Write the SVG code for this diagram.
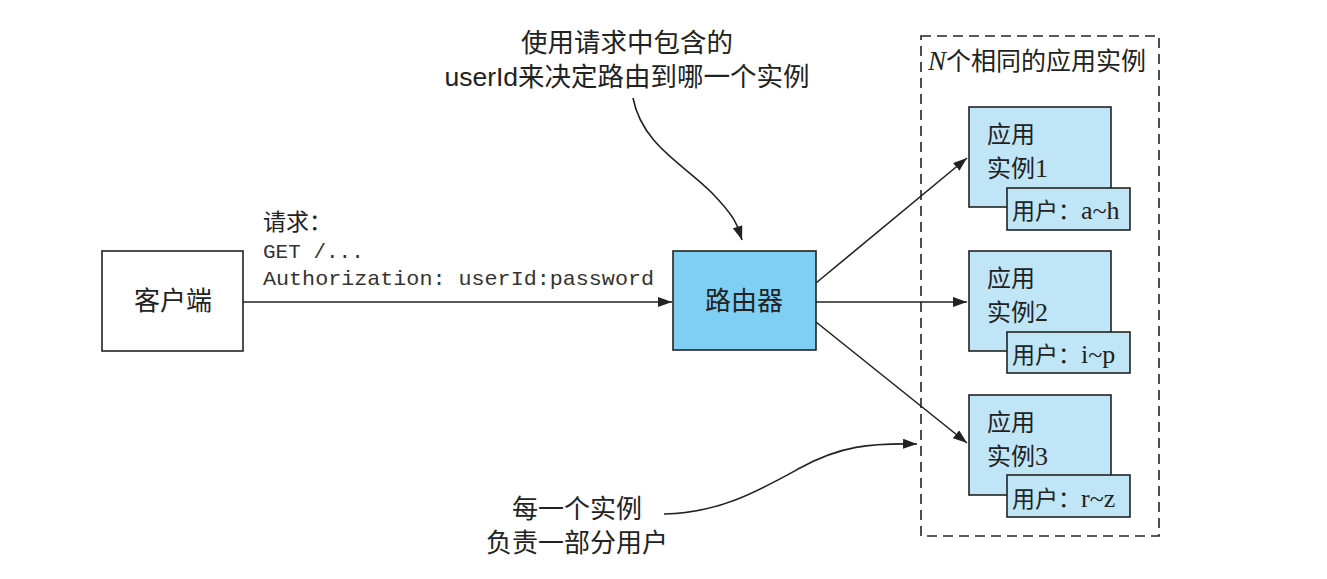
<svg xmlns="http://www.w3.org/2000/svg" width="1327" height="579" viewBox="0 0 1327 579">
<defs>
<marker id="ah" viewBox="0 0 14 10" refX="14" refY="5" markerWidth="14" markerHeight="10" markerUnits="userSpaceOnUse" orient="auto">
<path d="M0,0 L14,5 L0,10 Z" fill="#222"/>
</marker>
<style>
.box{stroke:#222;stroke-width:1.6}
.white{fill:#fff}
.router{fill:#7ecff3}
.inst{fill:#bfe5f6}
.serif{font-family:"Liberation Serif","Noto Sans CJK SC",serif;fill:#222}
.sans{font-family:"Liberation Sans","Noto Sans CJK SC",sans-serif;fill:#222}
.mono{font-family:"Liberation Mono","Noto Sans CJK SC",monospace;fill:#333}
.conn{stroke:#222;stroke-width:1.6;fill:none}
.lat{font-size:26px}
.bt{font-size:24px}
.lt{font-size:23px}
</style>
</defs>
<rect width="1327" height="579" fill="#fff"/>

<g id="container">
<rect x="921" y="36" width="238" height="500" fill="none" stroke="#222" stroke-width="1.6" stroke-dasharray="10,6"/>
<text x="928" y="70" class="serif" font-size="25"><tspan font-style="italic" font-size="27">N</tspan>个相同的应用实例</text>
</g>

<g id="client">
<rect x="102" y="251" width="141" height="100" class="box white"/>
<text x="173" y="310" class="serif" font-size="26" text-anchor="middle">客户端</text>
</g>

<g id="router">
<rect x="673" y="251" width="143" height="99" class="box router"/>
<text x="744" y="310" class="serif" font-size="26" text-anchor="middle">路由器</text>
</g>

<g id="instance1">
<rect x="969" y="107" width="142" height="100" class="box inst"/>
<text x="987" y="143" class="serif bt">应用</text>
<text x="987" y="177" class="serif bt">实例<tspan class="lat">1</tspan></text>
<rect x="1007" y="188" width="123" height="42" class="box inst"/>
<text x="1012" y="219" class="serif lt">用户：<tspan class="lat">a~h</tspan></text>
</g>

<g id="instance2">
<rect x="969" y="251" width="142" height="100" class="box inst"/>
<text x="987" y="287" class="serif bt">应用</text>
<text x="987" y="321" class="serif bt">实例<tspan class="lat">2</tspan></text>
<rect x="1007" y="332" width="123" height="41" class="box inst"/>
<text x="1012" y="363" class="serif lt">用户：<tspan class="lat">i~p</tspan></text>
</g>

<g id="instance3">
<rect x="969" y="395" width="142" height="100" class="box inst"/>
<text x="987" y="431" class="serif bt">应用</text>
<text x="987" y="465" class="serif bt">实例<tspan class="lat">3</tspan></text>
<rect x="1007" y="475" width="123" height="42" class="box inst"/>
<text x="1012" y="507" class="serif lt">用户：<tspan class="lat">r~z</tspan></text>
</g>

<g id="request-label">
<text x="263" y="230" class="serif" font-size="23">请求：</text>
<text x="263" y="258" class="mono" font-size="21">GET /...</text>
<text x="263" y="285" class="mono" font-size="21" textLength="391" lengthAdjust="spacingAndGlyphs">Authorization: userId:password</text>
</g>

<g id="note-top">
<text x="627" y="52" class="sans" font-size="26.5" text-anchor="middle">使用请求中包含的</text>
<text x="627" y="86" class="sans" font-size="26.5" text-anchor="middle">userId来决定路由到哪一个实例</text>
</g>

<g id="note-bottom">
<text x="577" y="518" class="sans" font-size="26" text-anchor="middle">每一个实例</text>
<text x="577" y="552" class="sans" font-size="26" text-anchor="middle">负责一部分用户</text>
</g>

<g id="connectors">
<line x1="243" y1="302" x2="672" y2="302" class="conn" marker-end="url(#ah)"/>
<line x1="816" y1="283" x2="967" y2="158" class="conn" marker-end="url(#ah)"/>
<line x1="816" y1="302" x2="967" y2="302" class="conn" marker-end="url(#ah)"/>
<line x1="816" y1="322" x2="967" y2="443" class="conn" marker-end="url(#ah)"/>
<path d="M633,98 C642,145 685,165 712,193 S738,228 742,240" class="conn" stroke-width="1.2" marker-end="url(#ah)"/>
<path d="M664,514 C720,513 760,490 800,468 S870,443 917,444" class="conn" stroke-width="1.2" marker-end="url(#ah)"/>
</g>
</svg>
